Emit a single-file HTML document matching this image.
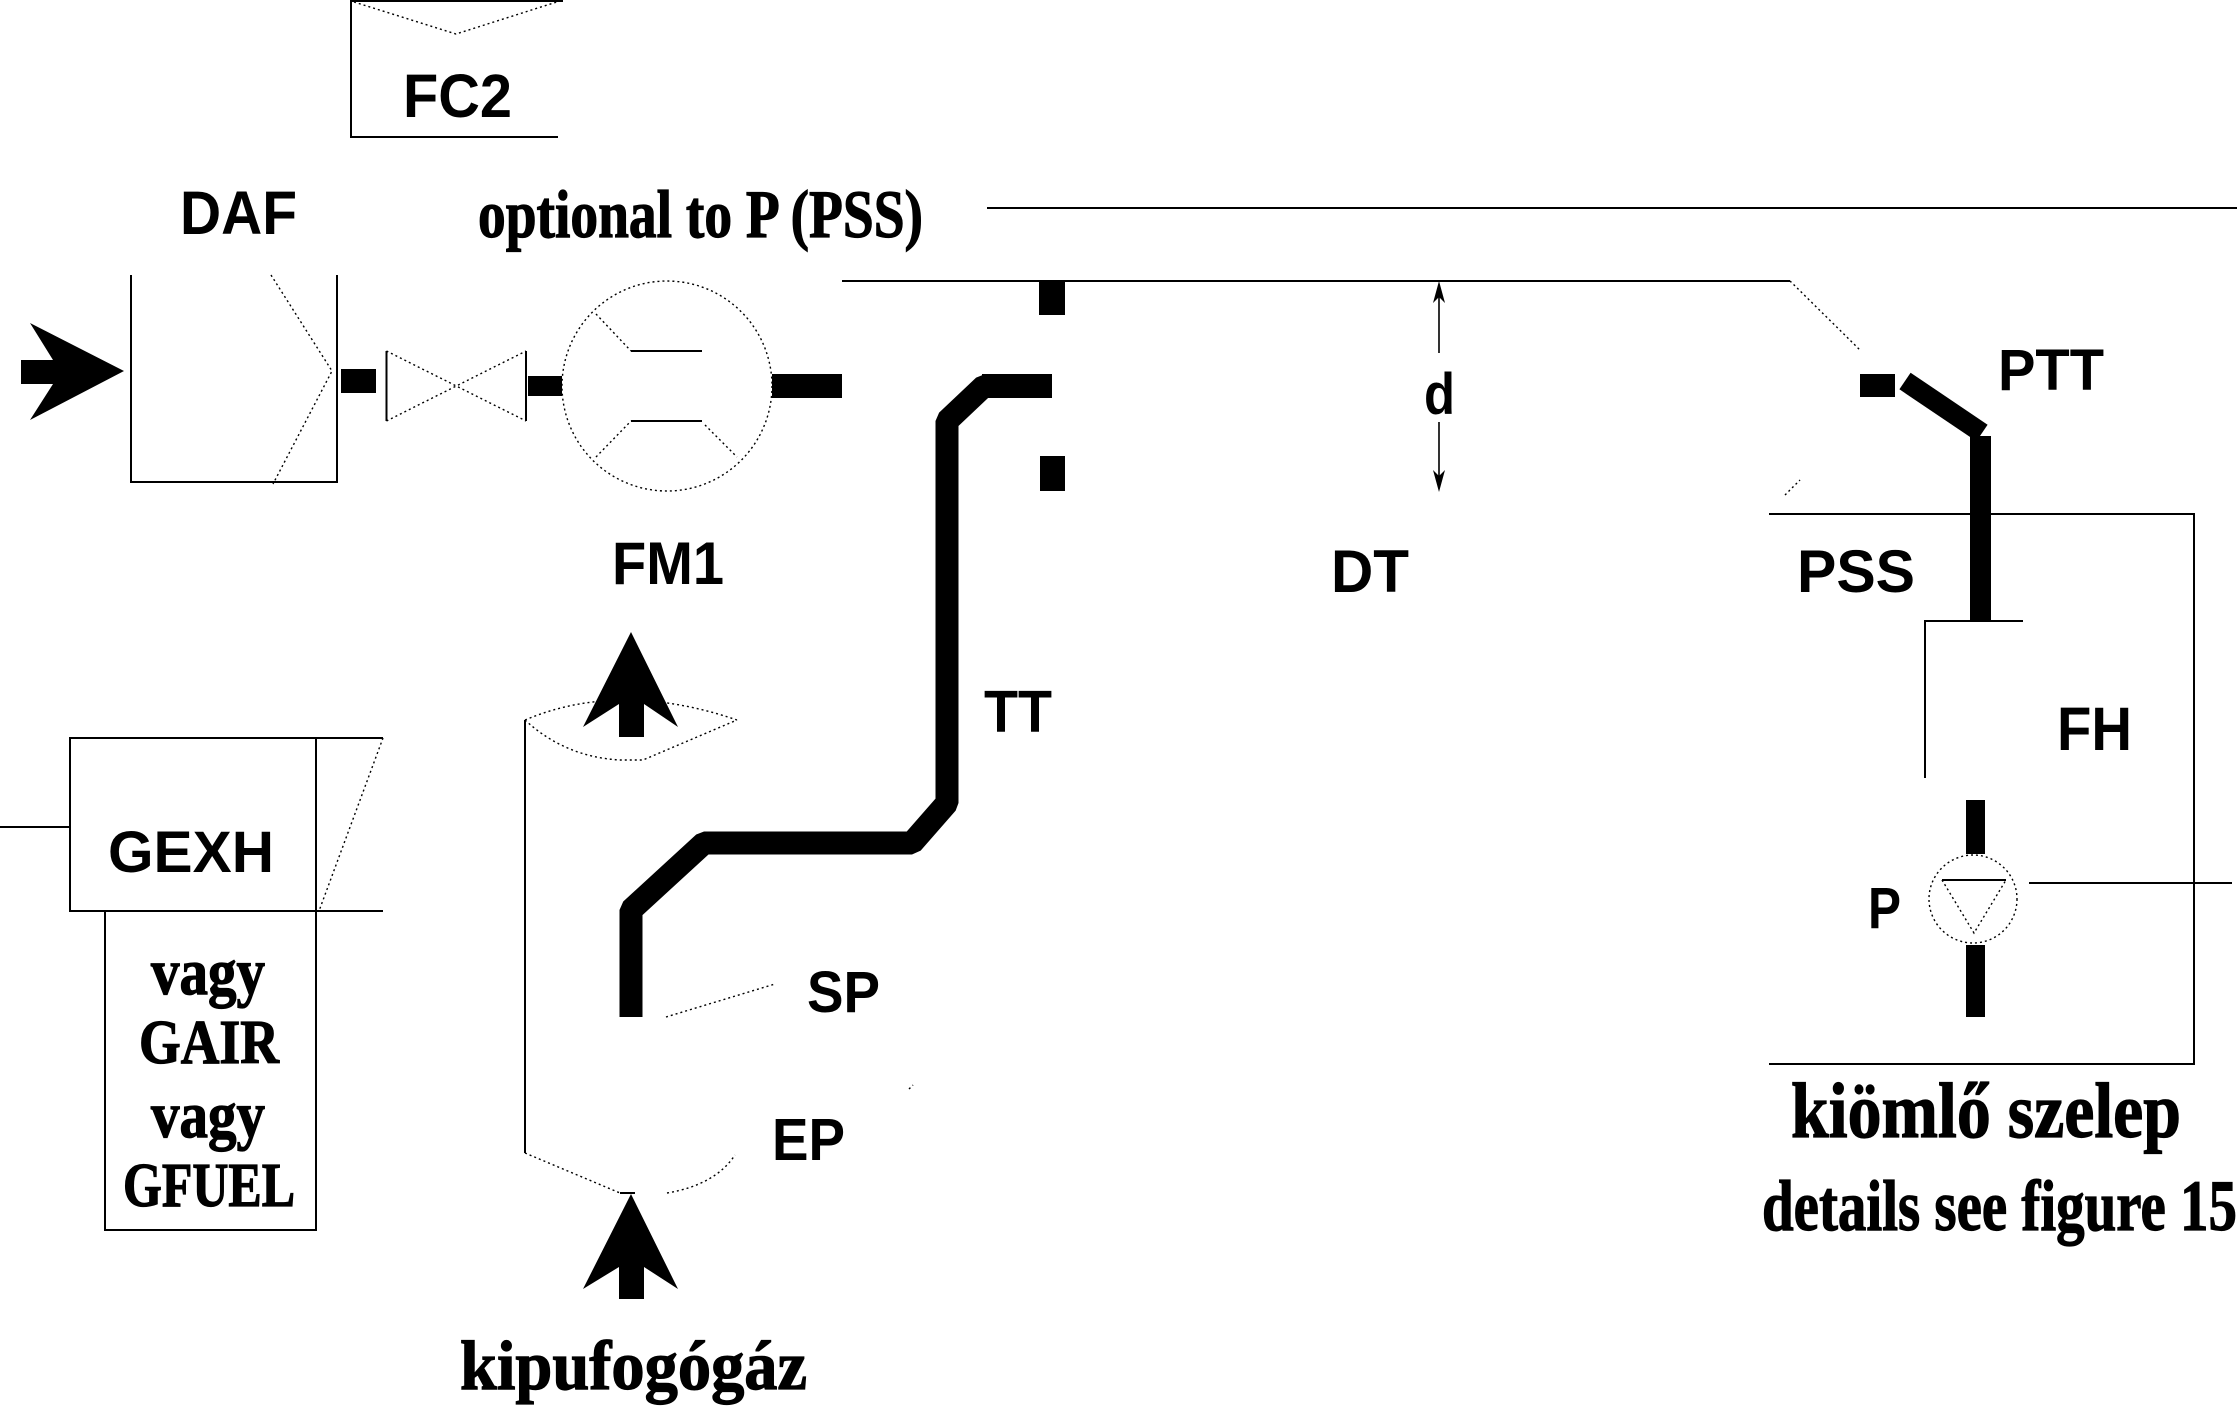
<!DOCTYPE html>
<html>
<head>
<meta charset="utf-8">
<style>
  html,body{margin:0;padding:0;background:#fff;}
  body{width:2237px;height:1413px;overflow:hidden;}
  svg{display:block;}
  .s{font-family:"Liberation Sans",Arial,sans-serif;font-weight:bold;}
  .r{font-family:"Liberation Serif","Times New Roman",serif;font-weight:bold;}
</style>
</head>
<body>
<svg xmlns="http://www.w3.org/2000/svg" width="2237" height="1413" viewBox="0 0 2237 1413">
<rect x="0" y="0" width="2237" height="1413" fill="#fff"/>

<!-- thin solid lines -->
<g stroke="#000" stroke-width="2" fill="none">
  <path d="M351,0 V137 H558"/>
  <path d="M351,1 H563"/>
  <path d="M987,208 H2237"/>
  <path d="M842,281 H1790"/>
  <path d="M131,275 V482 H337 V275"/>
  <path d="M386.5,351 V421 M526,351 V421"/>
  <path d="M631,351 H702 M631,421 H702"/>
  <path d="M1439,290 V353 M1439,422 V484" stroke-width="1.6"/>
  <path d="M1769,514 H2194 V1064 H1769"/>
  <path d="M2023,621 H1925 V778"/>
  <path d="M1942,880 H2006"/>
  <path d="M2029,883 H2232"/>
  <path d="M0,827 H70"/>
  <path d="M383,738 H70 V911 H383"/>
  <path d="M316,738 V1230 H105 V911"/>
  <path d="M525,720 V1153"/>
  <path d="M620,1193 H635"/>
</g>

<g fill="#000">
  <polygon points="1439,281 1433,303 1439,297 1445,303"/>
  <polygon points="1439,492 1433,470 1439,476 1445,470"/>
</g>

<!-- dotted lines -->
<g stroke="#000" stroke-width="1.4" fill="none" stroke-dasharray="2,3">
  <polyline points="354,2 456,34 563,0"/>
  <path d="M1790,281 L1860,350"/>
  <path d="M1785,495 L1800,480"/>
  <polyline points="271,275 332,371 273,484"/>
  <path d="M386.5,351 L526,421 M386.5,421 L526,351"/>
  <circle cx="667" cy="386" r="105"/>
  <path d="M596,314 L631,351 M596,457 L631,421 M705,425 L737,457"/>
  <circle cx="1973" cy="899" r="44"/>
  <polyline points="1942,880 1974,933 2006,880"/>
  <path d="M383,738 L319,911"/>
  <path d="M525,720 Q620,680 737,720"/>
  <path d="M525,720 Q565,757 620,760 L643,760 L737,720"/>
  <path d="M525,1153 L620,1193"/>
  <path d="M667,1193 Q715,1185 735,1155"/>
  <path d="M666,1017 L775,984"/>
  <path d="M909,1089 L913,1085"/>
</g>

<!-- thick black elements -->
<g fill="#000">
  <polygon points="21,360 53,360 30,323 124,371 30,420 53,384 21,384"/>
  <rect x="341" y="369" width="35" height="24"/>
  <rect x="528" y="376" width="34" height="20"/>
  <rect x="772" y="374" width="70" height="24"/>
  <rect x="1039" y="281" width="26" height="34"/>
  <rect x="1040" y="456" width="25" height="35"/>
  <rect x="982" y="374" width="70" height="24"/>
  <rect x="1860" y="374" width="35" height="23"/>
  <rect x="1970" y="436" width="21" height="185"/>
  <rect x="1966" y="800" width="19" height="54"/>
  <rect x="1966" y="945" width="19" height="72"/>
  <polygon points="631,632 678,727 644,704 644,737 619,737 619,704 583,727"/>
  <polygon points="631,1194 678,1289 644,1267 644,1299 619,1299 619,1267 583,1289"/>
</g>
<g stroke="#000" fill="none" stroke-linejoin="bevel">
  <polyline stroke-width="23" points="631,1017 631,910 704,843 912,843 947,803 947,421 984,386 1000,386"/>
  <path d="M1905,381 L1982,433" stroke-width="20"/>
</g>

<!-- sans labels -->
<g class="s" fill="#000">
  <text x="403" y="117" font-size="61" textLength="109" lengthAdjust="spacingAndGlyphs">FC2</text>
  <text x="180" y="234" font-size="61" textLength="117" lengthAdjust="spacingAndGlyphs">DAF</text>
  <text x="612" y="584" font-size="60" textLength="112" lengthAdjust="spacingAndGlyphs">FM1</text>
  <text x="1424" y="414" font-size="58" textLength="31" lengthAdjust="spacingAndGlyphs">d</text>
  <text x="1331" y="592" font-size="60" textLength="78" lengthAdjust="spacingAndGlyphs">DT</text>
  <text x="1998" y="390" font-size="58" textLength="106" lengthAdjust="spacingAndGlyphs">PTT</text>
  <text x="1797" y="592" font-size="60" textLength="118" lengthAdjust="spacingAndGlyphs">PSS</text>
  <text x="984" y="732" font-size="59" textLength="68" lengthAdjust="spacingAndGlyphs">TT</text>
  <text x="2057" y="750" font-size="61" textLength="75" lengthAdjust="spacingAndGlyphs">FH</text>
  <text x="1868" y="928" font-size="58" textLength="33" lengthAdjust="spacingAndGlyphs">P</text>
  <text x="108" y="872" font-size="58" textLength="166" lengthAdjust="spacingAndGlyphs">GEXH</text>
  <text x="807" y="1012" font-size="58" textLength="73" lengthAdjust="spacingAndGlyphs">SP</text>
  <text x="772" y="1160" font-size="59" textLength="73" lengthAdjust="spacingAndGlyphs">EP</text>
</g>

<!-- serif labels -->
<g class="r" fill="#000" stroke="#000" stroke-width="1.2">
  <text x="478" y="237" font-size="68" textLength="445" lengthAdjust="spacingAndGlyphs">optional to P (PSS)</text>
  <text x="151" y="994" font-size="66" textLength="114" lengthAdjust="spacingAndGlyphs">vagy</text>
  <text x="139" y="1063" font-size="62" textLength="140" lengthAdjust="spacingAndGlyphs">GAIR</text>
  <text x="151" y="1137" font-size="66" textLength="114" lengthAdjust="spacingAndGlyphs">vagy</text>
  <text x="123" y="1206" font-size="62" textLength="172" lengthAdjust="spacingAndGlyphs">GFUEL</text>
  <text x="460" y="1389" font-size="70" textLength="347" lengthAdjust="spacingAndGlyphs">kipufogógáz</text>
  <text x="1791" y="1137" font-size="78" textLength="390" lengthAdjust="spacingAndGlyphs">kiömlő szelep</text>
  <text x="1762" y="1230" font-size="72" textLength="475" lengthAdjust="spacingAndGlyphs">details see figure 15</text>
</g>
</svg>
</body>
</html>
